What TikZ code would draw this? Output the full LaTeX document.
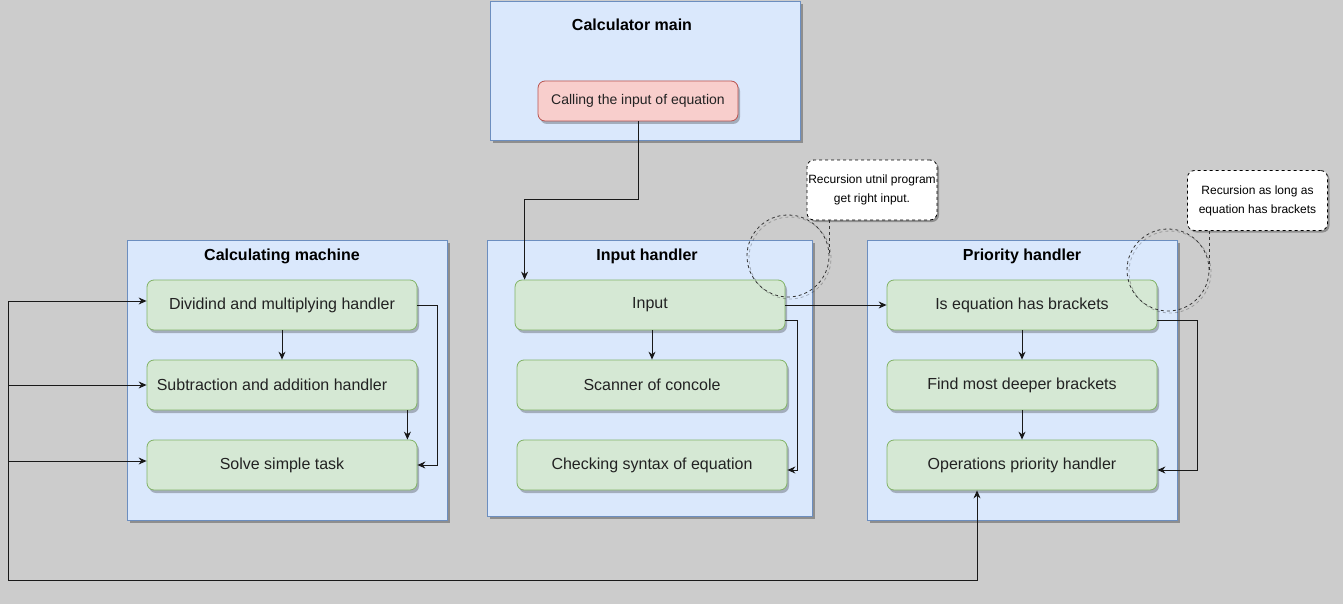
\documentclass[tikz,border=0pt]{standalone}
\usepackage{fontspec}
\setmainfont{Liberation Sans}
\usetikzlibrary{calc,arrows.meta,shadows}
\definecolor{bgc}{HTML}{CCCCCC}
\definecolor{grpfill}{HTML}{DAE8FC}
\definecolor{grpline}{HTML}{6C8EBF}
\definecolor{taskfill}{HTML}{D5E8D4}
\definecolor{taskline}{HTML}{82B366}
\definecolor{callfill}{HTML}{F8CECC}
\definecolor{callline}{HTML}{B85450}
\definecolor{txt}{HTML}{222222}

\tikzset{
    group/.style={draw=grpline, fill=grpfill, line width=0.8pt, inner sep=0pt,
        drop shadow={shadow xshift=3pt, shadow yshift=-3pt, fill=black, opacity=0.3}},
    grouptitle/.style={font=\fontsize{16}{19}\selectfont\bfseries, text=black},
    task/.style={draw=taskline, fill=taskfill, line width=0.8pt, rounded corners=7pt,
        minimum width=270pt, minimum height=50pt, inner sep=0pt, text=txt,
        font=\fontsize{16}{19}\selectfont,
        drop shadow={shadow xshift=2pt, shadow yshift=-3pt, fill=black, opacity=0.25}},
    callbox/.style={task, draw=callline, fill=callfill, minimum width=200pt,
        minimum height=40pt, font=\fontsize{14}{17}\selectfont},
    note/.style={draw=black, fill=white, dashed, line width=0.8pt, rounded corners=7pt,
        inner sep=0pt, align=center, text=black, font=\fontsize{12}{19}\selectfont,
        drop shadow={shadow xshift=2pt, shadow yshift=-2pt, fill=black, opacity=0.3}},
    ring/.style={circle, draw=black!80, dashed, line width=0.8pt, minimum size=82pt, inner sep=0pt,
        drop shadow={shadow xshift=2pt, shadow yshift=-2pt, fill=none, draw=black, opacity=0.25}},
    link/.style={draw=black!90, line width=0.9pt, -{Stealth[length=8pt,width=7pt]}},
    tail/.style={draw=black!80, dashed, line width=0.8pt}
}

\begin{document}
\begin{tikzpicture}[x=1pt, y=-1pt]
    \fill[bgc] (0,0) rectangle (1343,604);
    \useasboundingbox (0,0) rectangle (1343,604);

    % containers
    \node[group, minimum width=310pt, minimum height=139pt] (mainG) at (645,70.5) {};
    \node[grouptitle] (mainT) at (632,25) {Calculator main};
    \node[group, minimum width=320pt, minimum height=280pt] (calcG) at (287,380) {};
    \node[grouptitle] (calcT) at (282,256) {Calculating machine};
    \node[group, minimum width=325pt, minimum height=276pt] (inG) at (649.5,378) {};
    \node[grouptitle] (inT) at (647,256) {Input handler};
    \node[group, minimum width=310pt, minimum height=280pt] (prioG) at (1022,380) {};
    \node[grouptitle] (prioT) at (1022,256) {Priority handler};

    % tasks
    \node[callbox] (call) at (638,101) {Calling the input of equation};

    \node[task] (div) at (282,305) {Dividind and multiplying handler};
    \node[task] (sub) at (282,385) {\hspace*{-20pt}Subtraction and addition handler};
    \node[task] (solve) at (282,465) {Solve simple task};

    \node[task] (input) at (650,305) {Input};
    \node[task] (scan) at (652,385) {Scanner of concole};
    \node[task] (check) at (652,465) {Checking syntax of equation};

    \node[task] (brk) at (1022,305) {Is equation has brackets};
    \node[task] (deep) at (1022,385) {Find most deeper brackets};
    \node[task] (ops) at (1022,465) {Operations priority handler};

    % recursion notes
    \node[ring] (ring1) at (788,256) {};
    \node[note, minimum width=130pt, minimum height=60pt] (note1) at (872,190) {Recursion utnil program\\get right input.};
    \draw[tail] (ring1.east |- note1.south) -- (ring1.east);

    \node[ring] (ring2) at (1168,270) {};
    \node[note, minimum width=140pt, minimum height=60pt] (note2) at (1257.5,200.5) {Recursion as long as\\equation has brackets};
    \draw[tail] (ring2.east |- note2.south) -- (ring2.east);

    % connectors
    \draw[link] (call.south) |- ($(input.north west)+(10,-80)$) -- ($(input.north west)+(10,0)$);
    \draw[link] (input.east) -- (brk.west);
    \draw[link] ($(input.east)+(0,15)$) -- ++(12,0) |- ($(check.east)+(0,5)$);
    \draw[link] (input.south -| scan.north) -- (scan.north);

    \draw[link] (brk.south) -- (deep.north);
    \draw[link] (deep.south) -- (ops.north);
    \draw[link] ($(brk.east)+(0,15)$) -- ++(40,0) |- ($(ops.east)+(0,5)$);

    \draw[link] (div.south) -- (sub.north);
    \draw[link] ($(sub.south east)+(-10,0)$) -- ($(solve.north east)+(-10,0)$);
    \draw[link] (div.east) -- ++(20,0) |- (solve.east);

    \coordinate (bus) at (8,580);
    \draw[link] (bus) -| ($(ops.south)+(-45,0)$);
    \draw[link] (bus) |- ($(div.west)+(0,-4)$);
    \draw[link] (bus) |- (sub.west);
    \draw[link] (bus) |- ($(solve.west)+(0,-4)$);
\end{tikzpicture}
\end{document}
